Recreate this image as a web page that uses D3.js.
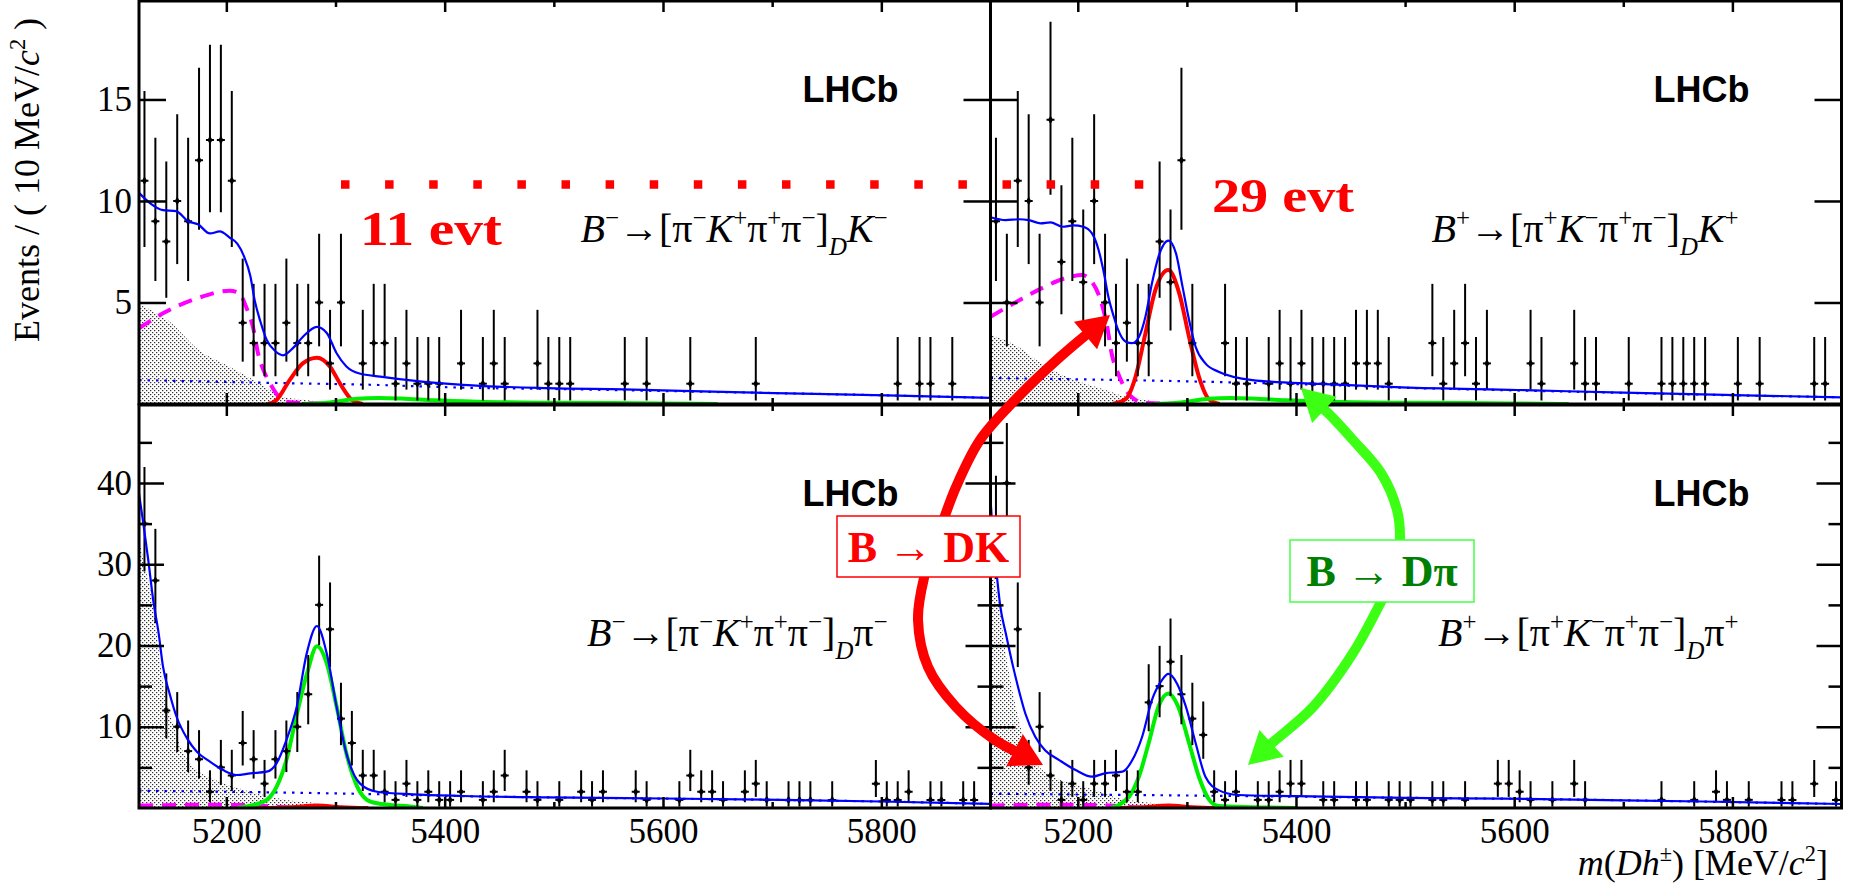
<!DOCTYPE html>
<html>
<head>
<meta charset="utf-8">
<script src="https://cdn.jsdelivr.net/npm/d3@7"></script>
<style>
  body { margin: 0; background: #fff; }
  svg { display: block; }
</style>
</head>
<body>
<svg id="chart" width="1851" height="883"></svg>
<script>
"use strict";

// mass window and 10 MeV/c2 bin centres
const massRange = [5120, 5900];
const massBins = d3.range(5125, 5900, 10);

// events per bin (bins with no entries are not drawn)
const countsDKminus = [
  11, 9, 8, 10, 9, 12, 13, 13, 11, 4,
  3, 3, 3, 4, 3, 3, 5, 2, 5, 0,
  2, 3, 3, 1, 2, 1, 1, 1, 0, 2,
  0, 1, 2, 1, 0, 0, 2, 1, 1, 1,
  0, 0, 0, 0, 1, 0, 1, 0, 0, 0,
  1, 0, 0, 0, 0, 0, 1, 0, 0, 0,
  0, 0, 0, 0, 0, 0, 0, 0, 0, 1,
  0, 1, 1, 0, 1, 0, 0, 0];
const countsDKplus = [
  9, 5, 11, 10, 5, 14, 7, 9, 6, 10,
  5, 3, 4, 3, 3, 8, 6, 12, 3, 0,
  0, 3, 1, 1, 0, 1, 2, 1, 2, 1,
  1, 1, 1, 2, 2, 2, 1, 0, 0, 0,
  3, 1, 2, 3, 1, 2, 0, 0, 0, 2,
  1, 0, 0, 2, 1, 1, 0, 0, 1, 0,
  0, 1, 1, 1, 1, 1, 0, 0, 1, 0,
  1, 0, 0, 0, 0, 1, 1, 0];
const countsDPiminus = [
  35, 28, 12, 10, 7, 6, 2, 5, 4, 8,
  6, 3, 6, 7, 10, 14, 25, 22, 11, 8,
  4, 4, 2, 1, 3, 1, 2, 1, 1, 2,
  0, 1, 2, 4, 0, 2, 1, 0, 1, 0,
  2, 1, 2, 0, 0, 2, 1, 0, 0, 1,
  4, 2, 2, 1, 0, 2, 3, 1, 0, 1,
  1, 1, 0, 1, 0, 0, 0, 3, 1, 1,
  2, 0, 1, 1, 0, 1, 1, 0];
const countsDPiplus = [
  34, 40, 22, 5, 10, 4, 1, 3, 1, 3,
  3, 4, 2, 2, 13, 15, 18, 14, 11, 9,
  2, 1, 2, 0, 1, 1, 2, 3, 3, 0,
  1, 1, 0, 1, 1, 0, 1, 1, 1, 0,
  1, 1, 0, 1, 0, 0, 3, 3, 2, 1,
  0, 1, 0, 3, 1, 0, 0, 0, 0, 0,
  0, 1, 0, 0, 1, 0, 2, 1, 0, 1,
  0, 0, 1, 1, 0, 3, 0, 1];

// fit components as [mass, events] samples
const totalDKminus = [[5120,10.4],[5130,9.9],[5142,9.55],[5154,9.5],[5165,9.0],[5174,8.85],[5185,8.4],[5194,8.5],[5203,8.2],[5210,7.9],[5216,7.3],[5222,6.3],[5226,5.1],[5231,4.1],[5237,3.15],[5245,2.6],[5252,2.4],[5261,2.75],[5270,3.3],[5283,3.8],[5292,3.5],[5301,2.5],[5310,1.85],[5322,1.5],[5341,1.35],[5371,1.15],[5417,0.94],[5494,0.78],[5564,0.72],[5684,0.56],[5815,0.41],[5900,0.3]];
const totalDKplus = [[5120,9.2],[5134,9.06],[5146,9.1],[5155,9.06],[5166,8.9],[5175,8.95],[5186,8.73],[5196,8.8],[5205,8.73],[5213,8.4],[5219,7.6],[5224,6.44],[5228,5.29],[5233,4.3],[5237,3.65],[5244,3.07],[5250,3.0],[5256,3.3],[5262,4.3],[5268,5.95],[5274,7.26],[5283,8.05],[5290,7.42],[5296,5.78],[5302,4.14],[5308,2.82],[5317,2.0],[5329,1.59],[5360,1.18],[5421,0.99],[5497,0.82],[5603,0.69],[5700,0.56],[5801,0.44],[5900,0.33]];
const totalDPiminus = [[5120,38.7],[5124,35],[5128.5,30.5],[5133,25.6],[5138,21.5],[5142,17.4],[5148,14.1],[5154.5,11.2],[5164,8.57],[5173,6.93],[5185,5.7],[5197,4.67],[5209.5,4.06],[5222,4.27],[5237,4.47],[5246,5.5],[5255,8.36],[5264.5,12.46],[5273.6,19.0],[5283,22.4],[5292,19.0],[5301,12.46],[5310,6.72],[5322.5,3.0],[5338,2.0],[5371,1.68],[5417,1.48],[5494,1.31],[5600,1.17],[5723,0.98],[5800,0.8],[5900,0.5]];
const totalDPiplus = [[5120,38],[5122,34],[5125,29.7],[5129,24.8],[5134,21.5],[5140,17.8],[5146,14.5],[5152,11.6],[5161,8.77],[5170,7.1],[5183,5.9],[5198,4.67],[5213,3.85],[5225,4.27],[5241,4.47],[5250,5.9],[5259,8.77],[5268,13.3],[5277,15.7],[5283,16.5],[5291,15.3],[5299,12.5],[5308,8.0],[5317,3.85],[5329,2.2],[5347,1.6],[5400,1.45],[5500,1.25],[5590,1.15],[5700,0.95],[5773,0.8],[5900,0.49]];

const combDKminus = [[5120,1.18],[5250,1.03],[5330,0.95],[5420,0.8],[5500,0.74],[5600,0.64],[5700,0.54],[5800,0.43],[5900,0.3]];
const combDKplus = [[5120,1.28],[5330,1.08],[5420,0.95],[5500,0.8],[5600,0.67],[5700,0.55],[5800,0.43],[5900,0.33]];
const combDPiminus = [[5120,2.13],[5330,1.72],[5420,1.45],[5500,1.3],[5600,1.15],[5700,1.0],[5800,0.8],[5900,0.5]];
const combDPiplus = [[5120,1.75],[5330,1.5],[5400,1.4],[5500,1.25],[5590,1.15],[5700,0.95],[5775,0.78],[5900,0.49]];

const lowMassDKminus = [[5120,4.9],[5147,4.1],[5175,2.65],[5203,1.84],[5231,1.0],[5252,0.36],[5273,0.2],[5300,0]];
const lowMassDKplus = [[5120,3.4],[5146,2.8],[5161,2.2],[5183,1.5],[5207,1.0],[5225,0.7],[5244,0.36],[5262,0.2],[5274,0.1],[5290,0]];
const lowMassDPiminus = [[5120,33],[5125,30],[5133,25],[5142,15.4],[5152,10],[5161,6.7],[5173,4.7],[5191,3.4],[5212,2.4],[5234,1.6],[5255,1.0],[5283,0.6],[5300,0.2],[5320,0]];
const lowMassDPiplus = [[5120,33],[5123,29],[5128,24.8],[5134,19],[5140,14.5],[5146,10.8],[5155,6.7],[5164,5.1],[5177,3.85],[5195,3.0],[5216,2.2],[5238,1.2],[5256,0.8],[5286,0.4],[5310,0]];

const partRecoDKminus = [[5120,3.73],[5142,4.47],[5173,5.2],[5203,5.58],[5212,5.45],[5218,4.8],[5225,3.65],[5229,2.5],[5234,1.67],[5240,1.02],[5248,0.36],[5256,0.1],[5300,0]];
const partRecoDKplus = [[5120,4.3],[5146,5.1],[5170,5.78],[5188,6.19],[5204,6.35],[5213,6.02],[5221,5.1],[5227,3.8],[5231,2.5],[5237,1.5],[5244,0.7],[5253,0.2],[5262,0.05],[5300,0]];
const partRecoDPiminus = [[5120,0.3],[5180,0.4],[5220,0.35],[5245,0.15],[5265,0.02],[5300,0]];
const partRecoDPiplus = [[5120,0.3],[5180,0.4],[5220,0.35],[5245,0.15],[5265,0.02],[5300,0]];

const sigDKminus = [[5238,0],[5246,0.2],[5258,1.18],[5270,2.0],[5283,2.28],[5295,1.84],[5304,1.02],[5315,0.2],[5325,0]];
const sigDKplus = [[5232,0],[5244,0.25],[5253,1.35],[5262,3.48],[5271,5.6],[5283,6.6],[5293,5.45],[5302,3.3],[5311,1.35],[5320,0.25],[5330,0]];
const sigDKinDPiminus = [[5230,0],[5260,0.1],[5283,0.3],[5305,0.1],[5330,0]];
const sigDKinDPiplus = [[5230,0],[5260,0.1],[5283,0.3],[5305,0.1],[5330,0]];

const sigDPiinDKminus = [[5270,0],[5290,0.05],[5305,0.15],[5320,0.26],[5340,0.3],[5360,0.27],[5390,0.18],[5430,0.11],[5500,0.06],[5600,0.03],[5650,0]];
const sigDPiinDKplus = [[5270,0],[5290,0.05],[5305,0.15],[5320,0.26],[5340,0.3],[5360,0.27],[5390,0.18],[5430,0.11],[5500,0.06],[5600,0.03],[5650,0]];
const sigDPiminus = [[5210,0],[5225,0.37],[5237,1.0],[5246,2.6],[5255,5.9],[5264,11.2],[5274,16.6],[5283,19.9],[5292,17.8],[5301,12.5],[5310,6.7],[5320,2.6],[5332,0.78],[5350,0.37],[5368,0.2],[5380,0]];
const sigDPiplus = [[5230,0],[5247,1.4],[5256,3.85],[5265,8.0],[5274,12.5],[5283,14.1],[5292,12.5],[5302,8.0],[5311,3.85],[5320,1.1],[5329,0.25],[5360,0.1],[5400,0]];

const xMajorTicks = [5200, 5400, 5600, 5800];
const xMinorTicks = [5300, 5500, 5700];
const yMajorTicks = [[5, 10, 15], [10, 20, 30, 40]];
const yMinorTicks = [[], [5, 15, 25, 35, 45]];

// layout
const svg = d3.select("#chart");
const colX = [[139, 990.5], [990.5, 1841.5]];
const rowY = [[1, 404], [405, 808]];
const yMax = [19.85, 49.6];
const serif = "'Liberation Serif', 'Times New Roman', serif";
const sans = "'Liberation Sans', Arial, sans-serif";
const RED = "#ff0000";
const LIME = "#3cff14";

const minus = "\u2212";
const panels = [
  { col: 0, row: 0, counts: countsDKminus, total: totalDKminus, comb: combDKminus, low: lowMassDKminus, part: partRecoDKminus, dk: sigDKminus, dpi: sigDPiinDKminus,
    label: [["B",1],[minus,0,"sup"],["\u2192[π",0],[minus,0,"sup"],["K",1],["+",0,"sup"],["π",0],["+",0,"sup"],["π",0],[minus,0,"sup"],["]",0],["D",1,"sub"],["K",1],[minus,0,"sup"]] },
  { col: 1, row: 0, counts: countsDKplus, total: totalDKplus, comb: combDKplus, low: lowMassDKplus, part: partRecoDKplus, dk: sigDKplus, dpi: sigDPiinDKplus,
    label: [["B",1],["+",0,"sup"],["\u2192[π",0],["+",0,"sup"],["K",1],[minus,0,"sup"],["π",0],["+",0,"sup"],["π",0],[minus,0,"sup"],["]",0],["D",1,"sub"],["K",1],["+",0,"sup"]] },
  { col: 0, row: 1, counts: countsDPiminus, total: totalDPiminus, comb: combDPiminus, low: lowMassDPiminus, part: partRecoDPiminus, dk: sigDKinDPiminus, dpi: sigDPiminus,
    label: [["B",1],[minus,0,"sup"],["\u2192[π",0],[minus,0,"sup"],["K",1],["+",0,"sup"],["π",0],["+",0,"sup"],["π",0],[minus,0,"sup"],["]",0],["D",1,"sub"],["π",0],[minus,0,"sup"]] },
  { col: 1, row: 1, counts: countsDPiplus, total: totalDPiplus, comb: combDPiplus, low: lowMassDPiplus, part: partRecoDPiplus, dk: sigDKinDPiplus, dpi: sigDPiplus,
    label: [["B",1],["+",0,"sup"],["\u2192[π",0],["+",0,"sup"],["K",1],[minus,0,"sup"],["π",0],["+",0,"sup"],["π",0],[minus,0,"sup"],["]",0],["D",1,"sub"],["π",0],["+",0,"sup"]] }
];

// poisson 68% interval, as RooFit draws it
function poisCdf(k, mu) {
  let term = Math.exp(-mu), sum = term;
  for (let i = 1; i <= k; i++) { term *= mu / i; sum += term; }
  return sum;
}
function poisInterval(n) {
  const a = 0.158655;
  let lo = 0;
  if (n > 0) {
    let l = 0, h = n;
    for (let i = 0; i < 60; i++) { const m = (l + h) / 2; if (1 - poisCdf(n - 1, m) > a) h = m; else l = m; }
    lo = (l + h) / 2;
  }
  let l = n, h = n + 10 * Math.sqrt(n + 1) + 5;
  for (let i = 0; i < 60; i++) { const m = (l + h) / 2; if (poisCdf(n, m) > a) l = m; else h = m; }
  return [lo, (l + h) / 2];
}

function richText(sel, parts, size) {
  let shift = 0;
  parts.forEach(pt => {
    const pos = pt[2];
    const target = pos === "sup" ? -0.4 * size : pos === "sub" ? 0.32 * size : 0;
    sel.append("tspan")
      .attr("dy", target - shift)
      .attr("font-size", pos ? size * 0.62 : size)
      .attr("font-style", pt[1] ? "italic" : "normal")
      .text(pt[0]);
    shift = target;
  });
}

const defs = svg.append("defs");
const pat = defs.append("pattern").attr("id", "dots")
  .attr("width", 4).attr("height", 4).attr("patternUnits", "userSpaceOnUse");
pat.append("rect").attr("x", 0).attr("y", 0).attr("width", 1.3).attr("height", 1.2).attr("fill", "#333");
pat.append("rect").attr("x", 2).attr("y", 2).attr("width", 1.3).attr("height", 1.2).attr("fill", "#333");

panels.forEach((p, i) => {
  const x = d3.scaleLinear().domain(massRange).range(colX[p.col]);
  const y = d3.scaleLinear().domain([0, yMax[p.row]]).range([rowY[p.row][1], rowY[p.row][0]]);

  defs.append("clipPath").attr("id", "clip" + i)
    .append("rect")
    .attr("x", colX[p.col][0]).attr("y", rowY[p.row][0])
    .attr("width", colX[p.col][1] - colX[p.col][0])
    .attr("height", rowY[p.row][1] - rowY[p.row][0]);

  const g = svg.append("g").attr("clip-path", `url(#clip${i})`);
  const line = d3.line().x(d => x(d[0])).y(d => y(d[1])).curve(d3.curveMonotoneX);
  const area = d3.area().x(d => x(d[0])).y0(y(0)).y1(d => y(d[1])).curve(d3.curveMonotoneX);

  g.append("path").attr("d", area(p.low)).attr("fill", "url(#dots)");
  g.append("path").attr("d", line(p.comb)).attr("fill", "none")
    .attr("stroke", "#0000ff").attr("stroke-width", 2.2).attr("stroke-dasharray", "2.5 6");
  g.append("path").attr("d", line(p.part)).attr("fill", "none")
    .attr("stroke", "#ff00ff").attr("stroke-width", 4).attr("stroke-dasharray", "14 9");
  g.append("path").attr("d", line(p.dk)).attr("fill", "none")
    .attr("stroke", RED).attr("stroke-width", 4);
  g.append("path").attr("d", line(p.dpi)).attr("fill", "none")
    .attr("stroke", "#00ee00").attr("stroke-width", 4);

  // data points with poisson error bars
  const pts = g.selectAll("g.pt")
    .data(massBins.map((m, k) => ({ m: m, n: p.counts[k] })).filter(d => d.n > 0))
    .join("g").attr("class", "pt");
  pts.append("line")
    .attr("x1", d => x(d.m)).attr("x2", d => x(d.m))
    .attr("y1", d => y(poisInterval(d.n)[0])).attr("y2", d => y(poisInterval(d.n)[1]))
    .attr("stroke", "#000").attr("stroke-width", 2);
  pts.append("line")
    .attr("x1", d => x(d.m) - 4).attr("x2", d => x(d.m) + 4)
    .attr("y1", d => y(d.n)).attr("y2", d => y(d.n))
    .attr("stroke", "#000").attr("stroke-width", 2);
  pts.append("path")
    .attr("d", d3.symbol(d3.symbolDiamond, 22))
    .attr("transform", d => `translate(${x(d.m)},${y(d.n)})`)
    .attr("fill", "#000");

  g.append("path").attr("d", line(p.total)).attr("fill", "none")
    .attr("stroke", "#0000ff").attr("stroke-width", 2.2);

  // axes: ticks inward on all four sides
  const tickStyle = a => a.call(s => s.select(".domain").remove())
    .call(s => s.selectAll(".tick line").attr("stroke", "#000").attr("stroke-width", 2.5));
  const bottomLabels = p.row === 1;
  svg.append("g").attr("transform", `translate(0,${rowY[p.row][1]})`)
    .call(d3.axisBottom(x).tickValues(xMajorTicks).tickSize(-11).tickPadding(10)
      .tickFormat(bottomLabels ? d3.format("d") : ""))
    .call(tickStyle)
    .call(s => s.selectAll("text").attr("font-family", serif).attr("font-size", 35).attr("fill", "#000"));
  svg.append("g").attr("transform", `translate(0,${rowY[p.row][1]})`)
    .call(d3.axisBottom(x).tickValues(xMinorTicks).tickSize(-6).tickFormat(""))
    .call(tickStyle);
  svg.append("g").attr("transform", `translate(0,${rowY[p.row][0]})`)
    .call(d3.axisTop(x).tickValues(xMajorTicks).tickSize(-11).tickFormat(""))
    .call(tickStyle);
  svg.append("g").attr("transform", `translate(0,${rowY[p.row][0]})`)
    .call(d3.axisTop(x).tickValues(xMinorTicks).tickSize(-6).tickFormat(""))
    .call(tickStyle);

  const majorLen = p.row === 0 ? 27 : 25;
  svg.append("g").attr("transform", `translate(${colX[p.col][0]},0)`)
    .call(d3.axisLeft(y).tickValues(yMajorTicks[p.row]).tickSize(-majorLen).tickPadding(7)
      .tickFormat(p.col === 0 ? d3.format("d") : ""))
    .call(tickStyle)
    .call(s => s.selectAll("text").attr("font-family", serif).attr("font-size", 35).attr("fill", "#000"));
  svg.append("g").attr("transform", `translate(${colX[p.col][0]},0)`)
    .call(d3.axisLeft(y).tickValues(yMinorTicks[p.row]).tickSize(-13).tickFormat(""))
    .call(tickStyle);
  svg.append("g").attr("transform", `translate(${colX[p.col][1]},0)`)
    .call(d3.axisRight(y).tickValues(yMajorTicks[p.row]).tickSize(-majorLen).tickFormat(""))
    .call(tickStyle);
  svg.append("g").attr("transform", `translate(${colX[p.col][1]},0)`)
    .call(d3.axisRight(y).tickValues(yMinorTicks[p.row]).tickSize(-13).tickFormat(""))
    .call(tickStyle);

  svg.append("rect")
    .attr("x", colX[p.col][0]).attr("y", rowY[p.row][0])
    .attr("width", colX[p.col][1] - colX[p.col][0])
    .attr("height", rowY[p.row][1] - rowY[p.row][0])
    .attr("fill", "none").attr("stroke", "#000").attr("stroke-width", 3);

  svg.append("text")
    .attr("x", colX[p.col][1] - 92).attr("y", rowY[p.row][0] + 100.5)
    .attr("text-anchor", "end").attr("font-family", sans).attr("font-weight", "bold")
    .attr("font-size", 36).text("LHCb");

  const lab = svg.append("text")
    .attr("x", colX[p.col][1] - 103).attr("y", rowY[p.row][0] + 241)
    .attr("text-anchor", "end").attr("font-family", serif);
  richText(lab, p.label, 40);
});

// axis titles
const yTitle = svg.append("text")
  .attr("transform", "translate(39,180) rotate(-90)")
  .attr("text-anchor", "middle").attr("font-family", serif);
richText(yTitle, [["Events / ( 10 MeV/",0],["c",1],["2",0,"sup"],[" )",0]], 36);

const xTitle = svg.append("text")
  .attr("x", 1828).attr("y", 875)
  .attr("text-anchor", "end").attr("font-family", serif);
richText(xTitle, [["m",1],["(",0],["Dh",1],["±",0,"sup"],[") [MeV/",0],["c",1],["2",0,"sup"],["]",0]], 36);

// annotations
svg.append("line")
  .attr("x1", 341).attr("x2", 1144).attr("y1", 184.5).attr("y2", 184.5)
  .attr("stroke", RED).attr("stroke-width", 8.5).attr("stroke-dasharray", "8.5 35.6");

function evtText(xp, yp, label) {
  svg.append("text").attr("x", xp).attr("y", yp)
    .attr("font-family", serif).attr("font-weight", "bold").attr("font-size", 48)
    .attr("fill", RED).attr("textLength", 142).attr("lengthAdjust", "spacingAndGlyphs")
    .text(label);
}
evtText(360, 245, "11 evt");
evtText(1212, 211.5, "29 evt");

const dkArrow = [[1110,315],[1060,357],[1015,400],[980,440],[956,487],[940,530],[924,578],[918,620],[928,667],[956,707],[995,740],[1043,765]];
const dpiArrow = [[1301,388],[1330,415],[1353,440],[1381,473],[1397,510],[1400,540],[1395,575],[1381,602],[1353,653],[1313,707],[1272,743],[1248,765]];

function trimEnd(tip, prev, d) {
  const dx = tip[0] - prev[0], dy = tip[1] - prev[1], len = Math.hypot(dx, dy);
  return [tip[0] - dx / len * d, tip[1] - dy / len * d];
}
function head(tip, prev, len, wid) {
  const dx = tip[0] - prev[0], dy = tip[1] - prev[1], l = Math.hypot(dx, dy);
  const ux = dx / l, uy = dy / l;
  const bx = tip[0] - ux * len, by = tip[1] - uy * len;
  return [tip, [bx - uy * wid / 2, by + ux * wid / 2], [bx + uy * wid / 2, by - ux * wid / 2]];
}
function curvedArrow(pts, color) {
  const n = pts.length;
  const shaft = pts.slice();
  shaft[0] = trimEnd(pts[0], pts[1], 16);
  shaft[n - 1] = trimEnd(pts[n - 1], pts[n - 2], 16);
  svg.append("path")
    .attr("d", d3.line().curve(d3.curveCatmullRom)(shaft))
    .attr("fill", "none").attr("stroke", color).attr("stroke-width", 10);
  [head(pts[0], pts[1], 32, 36), head(pts[n - 1], pts[n - 2], 32, 36)].forEach(h => {
    svg.append("polygon").attr("points", h.map(q => q.join(",")).join(" ")).attr("fill", color);
  });
}
curvedArrow(dkArrow, RED);
curvedArrow(dpiArrow, LIME);

function box(x0, y0, w, h, border, textColor, label) {
  svg.append("rect").attr("x", x0).attr("y", y0).attr("width", w).attr("height", h)
    .attr("fill", "#fff").attr("stroke", border).attr("stroke-width", 1.5);
  svg.append("text").attr("x", x0 + w / 2).attr("y", y0 + h / 2 + 15)
    .attr("text-anchor", "middle").attr("font-family", serif).attr("font-weight", "bold")
    .attr("font-size", 44).attr("fill", textColor).text(label);
}
box(837, 516, 183, 61, RED, RED, "B \u2192 DK");
box(1290, 540, 184, 62, "#44ff44", "#008000", "B \u2192 D\u03c0");
</script>
</body>
</html>
